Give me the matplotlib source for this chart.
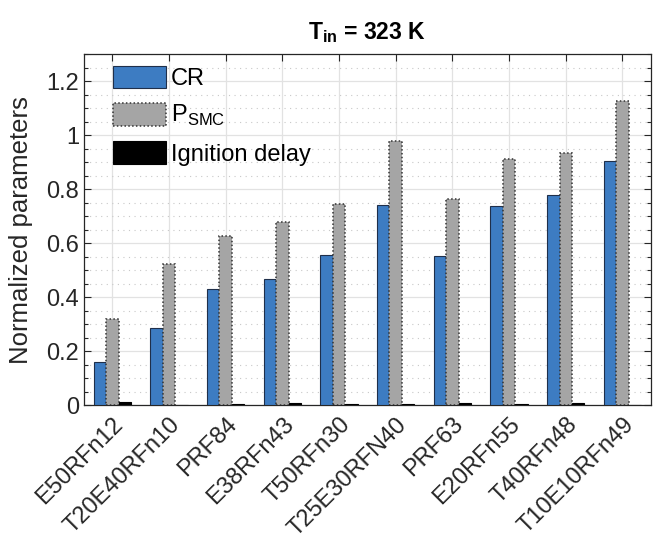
#!/usr/bin/env python3
import numpy as np
import matplotlib
matplotlib.use('Agg')
import matplotlib.pyplot as plt
from matplotlib.ticker import MultipleLocator

plt.rcParams['font.family'] = ['Liberation Sans', 'DejaVu Sans']
plt.rcParams['mathtext.fontset'] = 'custom'
plt.rcParams['mathtext.rm'] = 'Liberation Sans'
plt.rcParams['mathtext.bf'] = 'Liberation Sans:bold'

# fuel blends and normalized parameters at T_in = 323 K
fuels = ['E50RFn12', 'T20E40RFn10', 'PRF84', 'E38RFn43', 'T50RFn30',
         'T25E30RFN40', 'PRF63', 'E20RFn55', 'T40RFn48', 'T10E10RFn49']
cr = [0.159, 0.286, 0.430, 0.469, 0.558, 0.743, 0.553, 0.738, 0.777, 0.904]
p_smc = [0.318, 0.522, 0.628, 0.680, 0.747, 0.979, 0.762, 0.911, 0.936, 1.126]
ign_delay = [0.011, 0.002, 0.003, 0.006, 0.005, 0.005, 0.007, 0.003, 0.007, 0.002]

x = np.arange(1, len(fuels) + 1)
w = 0.22
txt = '#262626'

fig = plt.figure(figsize=(6.53, 5.43), dpi=100)
ax = fig.add_axes([0.1286, 0.254, 0.868, 0.646])

ax.bar(x - w, cr, w, color='#3D7CC2', edgecolor='#1f2f4a', linewidth=0.8,
       label='CR', zorder=3)
ax.bar(x, p_smc, w, color='#A5A5A5', edgecolor='#333333', linewidth=1.1,
       linestyle=(0, (1, 1.5)), label=r'P$_{\rm SMC}$', zorder=3)
ax.bar(x + w, ign_delay, w, color='black', edgecolor='black', linewidth=0.8,
       label='Ignition delay', zorder=3)

ax.set_xlim(0.5, 10.5)
ax.set_ylim(0, 1.3)
ax.set_xticks(x)
ax.set_xticklabels(fuels, rotation=45, ha='right', va='top',
                   rotation_mode='anchor', fontsize=17, color=txt)
ax.yaxis.set_minor_locator(MultipleLocator(0.05))
ax.set_yticks([0, 0.2, 0.4, 0.6, 0.8, 1.0, 1.2])
ax.set_yticklabels(['0', '0.2', '0.4', '0.6', '0.8', '1', '1.2'])
ax.tick_params(axis='y', labelsize=17, labelcolor=txt)
ax.tick_params(which='both', direction='in', top=True, right=True,
               color=txt, width=0.8)
ax.tick_params(which='major', length=5)
ax.tick_params(which='minor', length=3)
ax.tick_params(axis='x', which='minor', bottom=False, top=False)
ax.tick_params(axis='x', pad=6)

ax.grid(which='major', color='#e2e2e2', linewidth=0.9, zorder=0)
ax.grid(which='minor', axis='y', color='#c8c8c8', linestyle=(0, (1, 4)),
        linewidth=0.8, zorder=0)
ax.set_axisbelow(True)
for s in ax.spines.values():
    s.set_color(txt)
    s.set_linewidth(0.9)

ax.set_ylabel('Normalized parameters', fontsize=18.5, color=txt)
ax.yaxis.set_label_coords(-0.09, 0.5)
ax.set_title(r'T$_{\bf in}$ = 323 K', fontsize=16.5, fontweight='bold', pad=11)

ax.legend(loc='upper left', bbox_to_anchor=(0.022, 1.015), frameon=False,
          fontsize=17, handlelength=2.25, handleheight=1.1,
          labelspacing=0.55, handletextpad=0.2, borderaxespad=0.3)

fig.savefig('out.png', dpi=100)
